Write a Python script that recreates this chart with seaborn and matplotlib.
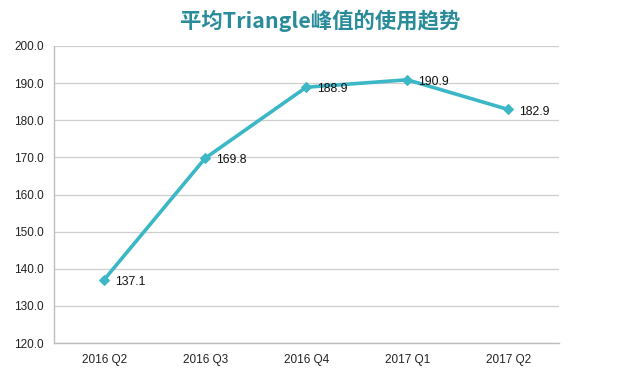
import matplotlib
matplotlib.use("Agg")
import matplotlib.pyplot as plt
import seaborn as sns
import pandas as pd
import numpy as np

quarters = ["2016 Q2", "2016 Q3", "2016 Q4", "2017 Q1", "2017 Q2"]
values = [137.1, 169.8, 188.9, 190.9, 182.9]
yticks = [120, 130, 140, 150, 160, 170, 180, 190, 200]
title = "平均Triangle峰值的使用趋势"

sns.set_theme(style="white")
plt.rcParams['font.family'] = ['Liberation Sans', 'DejaVu Sans']

df = pd.DataFrame({"pos": np.arange(len(quarters)), "value": values, "quarter": quarters})

fig = plt.figure(figsize=(6.4, 3.77), dpi=100)
ax = fig.add_axes([0.084, 0.090, 0.789, 0.788])

line_color = "#3BB7C6"
sns.lineplot(data=df, x="pos", y="value", ax=ax, color=line_color, linewidth=2.6,
             marker="D", markersize=5.5, markeredgecolor=line_color, markerfacecolor=line_color)

for x, v in zip(df["pos"], values):
    ax.annotate(f"{v:.1f}", (x, v), xytext=(8, -1.5), textcoords="offset points",
                fontsize=8.7, color="#111111", va="center", ha="left")

ax.set_xlim(-0.5, len(quarters) - 0.5)
ax.set_ylim(120, 200)
ax.set_yticks(yticks)
ax.set_yticklabels([f"{t:.1f}" for t in yticks], fontsize=8.5, color="#222222")
ax.set_xticks(df["pos"])
ax.set_xticklabels(quarters, fontsize=8.5, color="#222222")
ax.set_xticks(np.arange(-0.5, len(quarters), 1.0), minor=True)
ax.tick_params(axis="x", which="major", length=0, pad=8)
ax.tick_params(axis="x", which="minor", length=3, color="#bbbbbb", direction="in")
ax.tick_params(axis="y", length=3, color="#bbbbbb", direction="out", pad=4)
ax.set_xlabel("")
ax.set_ylabel("")

ax.yaxis.grid(True, color="#cfcfcf", linewidth=0.9)
ax.set_axisbelow(True)
for s in ["top", "right"]:
    ax.spines[s].set_visible(False)
for s in ["left", "bottom"]:
    ax.spines[s].set_color("#bdbdbd")
    ax.spines[s].set_linewidth(1.0)

fig.text(0.5, 0.945, title, ha="center", va="center", fontsize=15.4, fontweight="bold",
         color="#2A8C9A", family=["Noto Sans CJK SC", "DejaVu Sans"])

fig.savefig("out.png", dpi=100)
